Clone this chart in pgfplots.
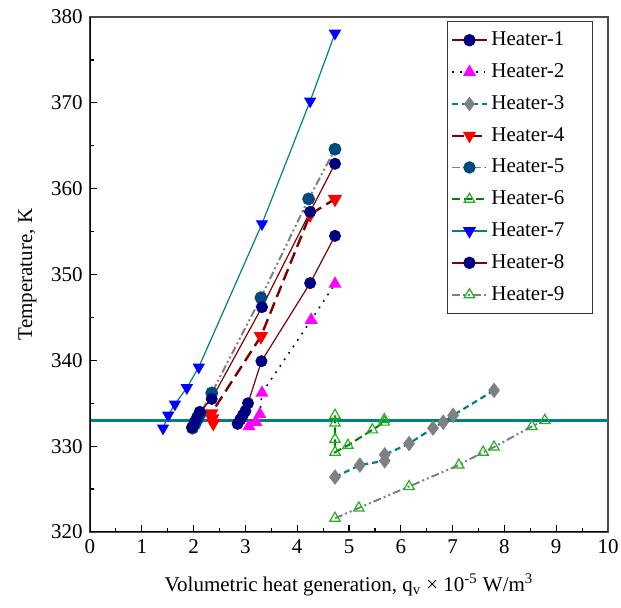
\documentclass[border=0pt]{standalone}
\usepackage{fontspec}
\setmainfont{Liberation Serif}
\usepackage{pgfplots}
\pgfplotsset{compat=1.18}
\definecolor{navyc}{HTML}{000080}
\definecolor{dred}{HTML}{800000}
\definecolor{tealc}{HTML}{008080}
\definecolor{grayc}{HTML}{808080}
\definecolor{h5blue}{HTML}{004A80}
\definecolor{greenc}{HTML}{008000}
\definecolor{lgreen}{HTML}{22B022}
\definecolor{magc}{HTML}{FF00FF}
\definecolor{bluec}{HTML}{0000FF}
\definecolor{redc}{HTML}{FF0000}
\newcommand{\pad}{\rule{10pt}{0pt}}
\begin{document}
\fontsize{10.5pt}{12.6pt}\selectfont
\begin{tikzpicture}
\path[use as bounding box] (-45pt,-38pt) rectangle (265.5pt,266pt);
\begin{axis}[
  scale only axis,
  width=259pt, height=257.5pt,
  xmin=0, xmax=10, ymin=320, ymax=380,
  xtick={0,1,...,10}, ytick={320,330,...,380},
  minor x tick num=1, minor y tick num=1,
  xtick pos=bottom, ytick pos=left,
  tick align=inside,
  major tick length=3.5pt, minor tick length=2pt,
  tick style={black, line width=0.6pt},
  axis line style={black!70, line width=0.7pt},
  /pgf/number format/assume math mode=true,
  /pgf/number format/1000 sep={},
  xlabel={Volumetric heat generation, q\textsubscript{v} × 10\textsuperscript{-5} W/m\textsuperscript{3}},
  ylabel={Temperature, K},
  xlabel style={yshift=-3pt},
  legend cell align=left,
  legend style={at={(0.971,0.992)}, anchor=north east, draw=black!80, line width=0.6pt,
    row sep=3.4pt, inner xsep=2pt, inner ysep=3pt, font=\fontsize{10.5pt}{12.6pt}\selectfont},
  legend image post style={line width=0.8pt},
]
% Heater-1
\addplot[dred, line width=0.6pt, mark=*, mark size=2.7pt, mark options={solid, fill=navyc, draw=navyc}]
 coordinates {(2.85,332.6)(2.9,333.1)(2.95,333.6)(3.0,334.1)(3.05,335.0)(3.31,339.9)(4.25,349.0)(4.73,354.5)};
\addlegendentry{Heater-1\pad}
% Heater-2
\addplot[navyc, line width=0.8pt, dash pattern=on 0.9pt off 3pt, mark=triangle*, mark size=3pt, mark options={solid, fill=magc, draw=magc}]
 coordinates {(3.07,332.3)(3.2,332.8)(3.28,333.7)(3.32,336.2)(4.27,344.7)(4.73,348.9)};
\addlegendentry{Heater-2\pad}
% Heater-3
\addplot[tealc, line width=1.1pt, dash pattern=on 3pt off 2pt, mark=diamond*, mark size=3pt, mark options={solid, fill=grayc, draw=grayc}]
 coordinates {(4.73,326.4)(5.21,327.8)(5.69,328.3)(5.69,329.0)(6.16,330.3)(6.62,332.1)(6.82,332.8)(7.01,333.6)(7.8,336.5)};
\addlegendentry{Heater-3\pad}
% Heater-4
\addplot[dred, line width=1.2pt, dash pattern=on 6pt off 3pt, mark=triangle*, mark size=3pt, mark options={solid, rotate=180, fill=redc, draw=redc}]
 coordinates {(2.38,332.7)(2.36,333.2)(2.34,333.8)(3.3,342.8)(4.25,357.0)(4.73,358.8)};
\addlegendentry{Heater-4\pad}
% Heater-5
\addplot[grayc, line width=1.0pt, dash pattern=on 4pt off 1.5pt on 1pt off 1.5pt on 1pt off 1.5pt, mark=*, mark size=2.7pt, mark options={solid, fill=h5blue, draw=h5blue}]
 coordinates {(1.98,332.1)(2.03,332.6)(2.08,333.2)(2.13,333.8)(2.35,336.2)(3.3,347.3)(4.22,358.8)(4.73,364.6)};
\addlegendentry{Heater-5\pad}
% Heater-6
\addplot[greenc, line width=1.0pt, dash pattern=on 4pt off 2pt, mark=triangle, mark size=3pt, mark options={solid, draw=lgreen, fill=white, line width=0.6pt}]
 coordinates {(4.73,333.6)(4.73,332.7)(4.73,330.8)(4.73,329.3)(4.98,330.1)(5.45,331.9)(5.68,332.8)(5.68,333.1)};
\addlegendentry{Heater-6\pad}
% Heater-7
\addplot[tealc, line width=0.6pt, mark=triangle*, mark size=3pt, mark options={solid, rotate=180, fill=bluec, draw=bluec}]
 coordinates {(1.41,332.1)(1.51,333.6)(1.64,334.9)(1.87,336.8)(2.1,339.2)(3.32,355.9)(4.25,370.2)(4.73,378.1)};
\addlegendentry{Heater-7\pad}
% Heater-8
\addplot[dred, line width=0.6pt, mark=*, mark size=2.7pt, mark options={solid, fill=navyc, draw=navyc}]
 coordinates {(1.97,332.2)(2.02,332.8)(2.07,333.4)(2.12,334.0)(2.35,335.5)(3.32,346.2)(4.25,357.3)(4.73,362.9)};
\addlegendentry{Heater-8\pad}
% Heater-9
\addplot[grayc, line width=1.0pt, dash pattern=on 4pt off 1.5pt on 1pt off 1.5pt on 1pt off 1.5pt, mark=triangle, mark size=3pt, mark options={solid, draw=lgreen, fill=white, line width=0.6pt}]
 coordinates {(4.73,321.6)(5.19,322.8)(6.16,325.3)(7.12,327.8)(7.59,329.3)(7.8,329.9)(8.53,332.3)(8.78,333.0)};
\addlegendentry{Heater-9\pad}
% reference line
\addplot[tealc, line width=1.2pt, forget plot] coordinates {(0,333)(10,333)};
\draw[black, line width=1.2pt] (rel axis cs:0,1) -- (rel axis cs:0,0) -- (rel axis cs:1,0);
\end{axis}
\end{tikzpicture}
\end{document}
